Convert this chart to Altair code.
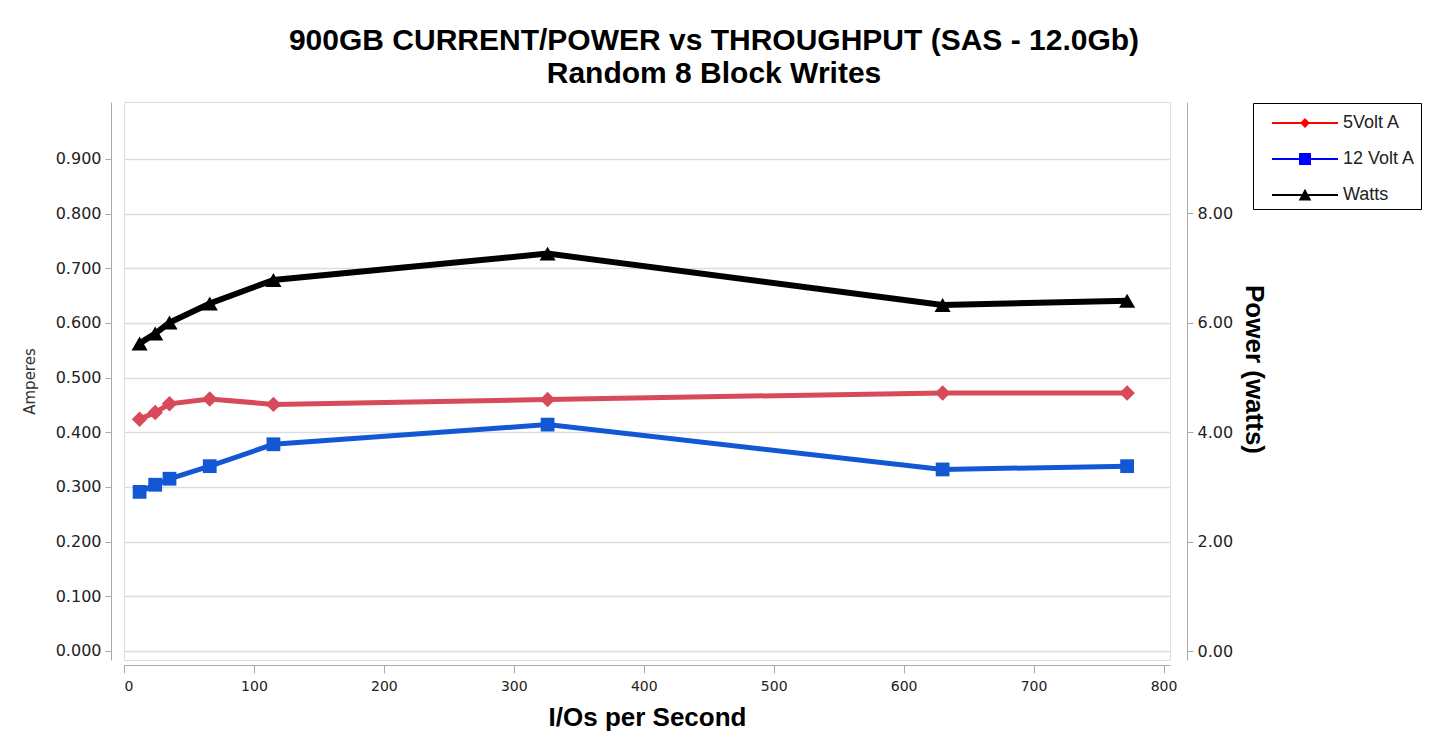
import altair as alt
import pandas as pd

# ---- data ----
iops = [12, 24, 35, 66, 115, 326, 630, 772]
amps_5v = [0.424, 0.436, 0.452, 0.461, 0.451, 0.460, 0.472, 0.472]
amps_12v = [0.291, 0.304, 0.315, 0.338, 0.378, 0.414, 0.332, 0.338]
watts = [5.62, 5.80, 6.00, 6.35, 6.78, 7.26, 6.32, 6.40]
series_names = ["5Volt A", "12 Volt A", "Watts"]

left_ticks = [0.0, 0.1, 0.2, 0.3, 0.4, 0.5, 0.6, 0.7, 0.8, 0.9]
right_ticks = [0, 2, 4, 6, 8]
x_ticks = [0, 100, 200, 300, 400, 500, 600, 700, 800]

df = pd.DataFrame({"iops": iops, "a5": amps_5v, "a12": amps_12v, "w": watts})
df_leg = pd.DataFrame({"series": series_names})

RED = "#D64A5A"
BLUE = "#1257D4"
TITLE_FONT = "Liberation Sans"
TICK_FONT = "DejaVu Sans"

xenc = alt.X("iops:Q", scale=alt.Scale(domain=[0, 805], nice=False, zero=False),
             axis=alt.Axis(values=x_ticks, title="I/Os per Second", grid=False, offset=5,
                           domainColor="#aaaaaa", tickColor="#aaaaaa", tickSize=8,
                           labelPadding=6, labelFont=TICK_FONT, labelFontSize=14,
                           labelColor="#222222", titleFont=TITLE_FONT, titleFontSize=26,
                           titleFontWeight="bold", titleColor="#000000", titlePadding=11))

yleft_scale = alt.Scale(domain=[-0.0165, 1.004], nice=False, zero=False)
yleft_axis = alt.Axis(values=left_ticks, format=".3f", title="Amperes", offset=13,
                      domainColor="#aaaaaa", tickColor="#aaaaaa", tickSize=6,
                      gridColor="#dddddd", gridWidth=1.5, labelFont=TICK_FONT,
                      labelFontSize=16, labelColor="#222222", labelPadding=4,
                      titleFont=TICK_FONT, titleFontSize=15,
                      titleFontWeight="normal", titleColor="#333333", titlePadding=18)

base = alt.Chart(df)

red_line = base.mark_line(color=RED, strokeWidth=5).encode(
    x=xenc, y=alt.Y("a5:Q", scale=yleft_scale, axis=yleft_axis))
red_pts = base.mark_point(shape="diamond", filled=True, color=RED, size=240, opacity=1).encode(
    x="iops:Q", y="a5:Q")
blue_line = base.mark_line(color=BLUE, strokeWidth=5).encode(x="iops:Q", y="a12:Q")
blue_pts = base.mark_point(shape="square", filled=True, color=BLUE, size=190, opacity=1).encode(
    x="iops:Q", y="a12:Q")

amps = alt.layer(red_line, red_pts, blue_line, blue_pts)

yright_scale = alt.Scale(domain=[-0.164, 10.03], nice=False, zero=False)
yright_axis = alt.Axis(values=right_ticks, format=".2f", title="Power (watts)", orient="right",
                       offset=17, grid=False, domainColor="#aaaaaa", tickColor="#aaaaaa",
                       tickSize=6, labelFont=TICK_FONT, labelFontSize=16, labelColor="#222222",
                       labelPadding=4, titleFont=TITLE_FONT, titleFontSize=26,
                       titleFontWeight="bold", titleColor="#000000", titlePadding=8,
                       titleY=267)

black_line = base.mark_line(color="#000000", strokeWidth=6).encode(
    x="iops:Q", y=alt.Y("w:Q", scale=yright_scale, axis=yright_axis))
black_pts = base.mark_point(shape="triangle-up", filled=True, color="#000000", size=260,
                            opacity=1).encode(x="iops:Q", y="w:Q")
power = alt.layer(black_line, black_pts)

leg_paths = [
    "M-2.2,-0.067H2.2V0.067H-2.2Z M-0.33,0L0,-0.33L0.33,0L0,0.33Z",
    "M-2.2,-0.067H2.2V0.067H-2.2Z M-0.4,-0.4H0.4V0.4H-0.4Z",
    "M-2.2,-0.067H2.2V0.067H-2.2Z M0,-0.42L0.42,0.36L-0.42,0.36Z",
]
leg_props = dict(title=None, orient="none", legendX=1129, legendY=1, padding=5,
                 symbolSize=900, symbolOffset=32, symbolOpacity=1, symbolStrokeWidth=0,
                 labelOffset=23, labelFont=TITLE_FONT, labelFontSize=18,
                 labelColor="#222222", rowPadding=12, fillColor="#ffffff",
                 strokeColor="#000000",
                 labelExpr="datum.label + '\u00a0\u00a0\u00a0\u00a0\u00a0'")

legend_layer = alt.Chart(df_leg).mark_point(filled=True, opacity=0).encode(
    color=alt.Color("series:N", scale=alt.Scale(domain=series_names,
                                                range=["#ff0000", "#0000ff", "#000000"]),
                    legend=alt.Legend(**leg_props)),
    shape=alt.Shape("series:N", scale=alt.Scale(domain=series_names, range=leg_paths),
                    legend=alt.Legend(**leg_props)),
)

chart = alt.layer(amps, power, legend_layer).resolve_scale(y="independent").properties(
    width=1046, height=558,
    title=alt.TitleParams(
        text=["900GB CURRENT/POWER vs THROUGHPUT (SAS - 12.0Gb)", "Random 8 Block Writes"],
        font=TITLE_FONT, fontSize=30, fontWeight="bold", color="#000000",
        lineHeight=33, anchor="middle", dx=67, offset=13),
    autosize=alt.AutoSizeParams(type="none"),
    padding={"left": 116, "top": 94, "right": 262, "bottom": 85},
).configure_view(stroke="#aaaaaa", strokeWidth=1.5).configure(background="#ffffff")

chart.save("out.html", embed_options={"renderer": "svg", "actions": False})
